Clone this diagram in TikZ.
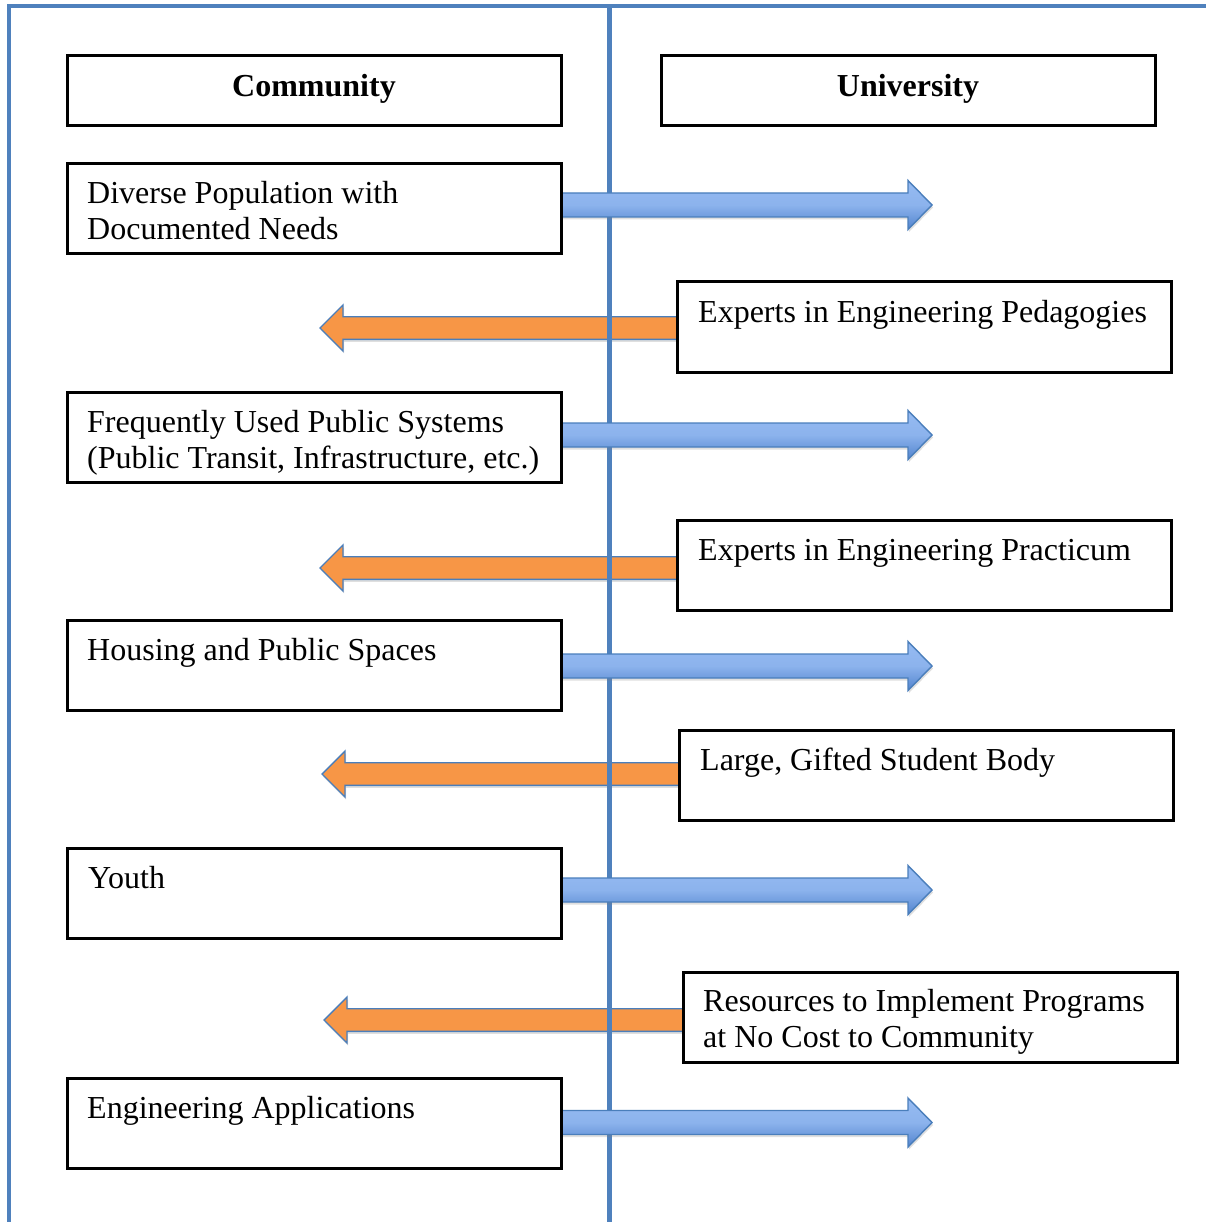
\documentclass[tikz,border=0pt]{standalone}
\usepackage{fontspec}
\setmainfont{Liberation Serif}
\usetikzlibrary{shadows}

\definecolor{frameblue}{RGB}{79,129,189}
\definecolor{arrowedge}{RGB}{74,126,187}
\definecolor{bluetop}{RGB}{150,187,242}
\definecolor{bluebot}{RGB}{82,132,206}
\definecolor{orangefill}{RGB}{247,150,70}

\tikzset{
  box/.style={draw=black, line width=3pt, minimum width=494pt, minimum height=90pt,
    anchor=north west, inner sep=0pt, outer sep=0pt},
  headbox/.style={box, minimum height=70pt},
  lbl/.style={anchor=base west, inner sep=0pt, font=\fontsize{32}{36}\selectfont},
  headlbl/.style={anchor=base, inner sep=0pt, font=\fontsize{32}{36}\selectfont\bfseries},
  frameline/.style={draw=frameblue, line width=3.2pt},
  midline/.style={draw=frameblue, line width=4.5pt},
  givearrow/.style={draw=arrowedge, line width=1.4pt, line join=miter,
    top color=bluetop, bottom color=bluebot, middle color=bluetop!85!bluebot,
    drop shadow={opacity=0.25, shadow xshift=1pt, shadow yshift=-2.5pt}},
  takearrow/.style={draw=arrowedge, line width=1.4pt, line join=miter, fill=orangefill,
    drop shadow={opacity=0.25, shadow xshift=1pt, shadow yshift=-2.5pt}},
}

% leftward arrow: #1 start box (west side), #2 centre height, #3 tip x
\newcommand{\takearr}[3]{%
  \draw[takearrow] (#1.west |- 0,#2-11.3) -- (#3+23,#2-11.3) -- (#3+23,#2-23) -- (#3,#2)
    -- (#3+23,#2+23) -- (#3+23,#2+11.3) -- (#1.west |- 0,#2+11.3) -- cycle;}
% rightward arrow: #1 start box (east side), #2 centre height
\newcommand{\givearr}[2]{%
  \draw[givearrow] (#1.east |- 0,#2-12) -- (908,#2-12) -- (908,#2-24.5) -- (932,#2)
    -- (908,#2+24.5) -- (908,#2+12) -- (#1.east |- 0,#2+12) -- cycle;}

\begin{document}
\begin{tikzpicture}[x=1pt, y=-1pt]
\useasboundingbox (0,0) rectangle (1206,1222);

% outer frame
\draw[frameline] (9,1222) -- (9,6) -- (1206,6);

% boxes
\node[headbox] (com) at (67,56) {};
\node[headbox] (uni) at (661,56) {};
\node[box] (c1) at (67,164) {};
\node[box] (u1) at (677,282) {};
\node[box] (c2) at (67,392) {};
\node[box] (u2) at (677,520) {};
\node[box] (c3) at (67,620) {};
\node[box] (u3) at (679,730) {};
\node[box] (c4) at (67,848) {};
\node[box] (u4) at (683,972) {};
\node[box] (c5) at (67,1078) {};

% leftward arrows, beneath the divider
\takearr{u1}{328}{320}
\takearr{u2}{568}{320}
\takearr{u3}{774}{322}
\takearr{u4}{1020}{324}

% divider
\draw[midline] (609.5,6) -- (609.5,1222);

% rightward arrows
\givearr{c1}{205}
\givearr{c2}{435}
\givearr{c3}{666}
\givearr{c4}{890}
\givearr{c5}{1122.5}

% box edges kept on top of the arrow ends
\foreach \b in {u1,u2,u3,u4} \draw[black, line width=3pt] (\b.north west) -- (\b.south west);
\foreach \b in {c1,c2,c3,c4,c5} \draw[black, line width=3pt] (\b.north east) -- (\b.south east);

% labels
\node[headlbl] (tcom) at (314,97) {Community};
\node[headlbl] (tuni) at (908,97) {University};
\node[lbl] (t1) at (87,204) {\begin{tabular}[t]{@{}l@{}}Diverse Population with\\Documented Needs\end{tabular}};
\node[lbl] (t2) at (698,322) {Experts in Engineering Pedagogies};
\node[lbl] (t3) at (87,432) {\begin{tabular}[t]{@{}l@{}}Frequently Used Public Systems\\(Public Transit, Infrastructure, etc.)\end{tabular}};
\node[lbl] (t4) at (698,560) {Experts in Engineering Practicum};
\node[lbl] (t5) at (87,660) {Housing and Public Spaces};
\node[lbl] (t6) at (700,770) {Large, Gifted Student Body};
\node[lbl] (t7) at (88,888) {Youth};
\node[lbl] (t8) at (703,1011) {\begin{tabular}[t]{@{}l@{}}Resources to Implement Programs\\at No Cost to Community\end{tabular}};
\node[lbl] (t9) at (87,1118) {Engineering Applications};
\end{tikzpicture}
\end{document}
